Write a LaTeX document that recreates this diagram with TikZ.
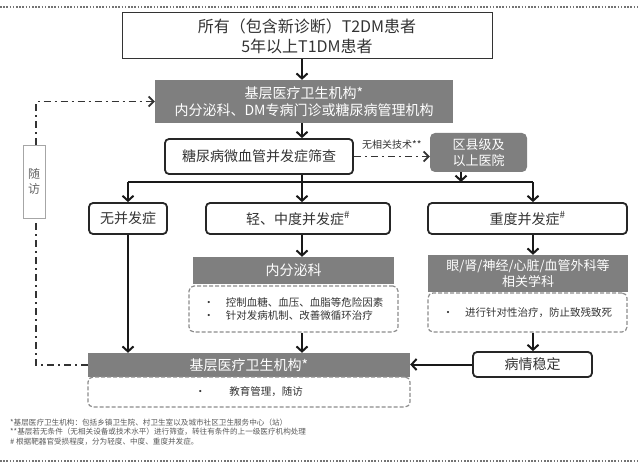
\documentclass[tikz,border=0pt]{standalone}
\usepackage{fontspec}
\setmainfont{Noto Sans CJK SC}
\usetikzlibrary{arrows.meta}
\definecolor{txt}{HTML}{333333}
\definecolor{gbox}{HTML}{7F7F7F}
\definecolor{dline}{HTML}{8C8C8C}
\begin{document}
\begin{tikzpicture}[x=1pt,y=-1pt,
  fs/.style 2 args={font=\fontsize{#1}{#2}\selectfont},
  plainbox/.style={draw=txt, line width=1pt, fill=white, text=txt, align=center, inner sep=0pt},
  rbox/.style={draw=black!85, line width=1.8pt, rounded corners=4pt, fill=white, text=txt, align=center, inner sep=0pt},
  gbx/.style={fill=gbox, text=white, align=center, inner sep=0pt},
  rgbx/.style={fill=gbox, text=white, align=center, inner sep=0pt, rounded corners=5pt},
  dbx/.style={draw=dline, dash pattern=on 4pt off 2pt, line width=1.2pt, rounded corners=5pt, inner sep=0pt, text=txt, align=left},
  arr/.style={draw=black!90, line width=2pt, -{Straight Barb[length=5pt,width=11pt]}},
  conn/.style={draw=black!90, line width=2pt},
  dd/.style={draw=black!80, line width=1.8pt, dash pattern=on 7pt off 4pt on 2pt off 4pt},
  ddarr/.style={dd, -{Straight Barb[length=5pt,width=10pt]}},
  sfbox/.style={draw=black!35, line width=0.8pt, fill=white, text=black!60, align=center, inner sep=0pt},
  border/.style={draw=black!55, line width=1.6pt, dash pattern=on 1.6pt off 1.6pt}
]
\useasboundingbox (0,0) rectangle (640,468);
\draw[border] (0,7) -- (640,7);
\draw[border] (0,461) -- (640,461);

\node[plainbox, minimum width=370pt, minimum height=46pt, fs={16}{20}] (top) at (307,36)
  {所有（包含新诊断）T2DM患者\\5年以上T1DM患者};
\node[gbx, minimum width=298pt, minimum height=43pt, fs={14}{17}] (g1) at (304,101.5)
  {基层医疗卫生机构*\\内分泌科、DM专病门诊或糖尿病管理机构};
\node[rbox, minimum width=188pt, minimum height=35pt, fs={14}{17}] (screen) at (259,156.5)
  {糖尿病微血管并发症筛查};
\node[rgbx, minimum width=97pt, minimum height=39pt, fs={13}{16}] (dist) at (478.5,152.5)
  {区县级及\\以上医院};
\node[rbox, minimum width=78pt, minimum height=31pt, fs={14}{17}] (none) at (128,218.5) {无并发症};
\node[rbox, minimum width=184pt, minimum height=31pt, fs={14}{17}] (mild) at (298,218.5) {轻、中度并发症\textsuperscript{\#}};
\node[rbox, minimum width=199pt, minimum height=31pt, fs={14}{17}] (sev) at (527.5,218.5) {重度并发症\textsuperscript{\#}};
\node[gbx, minimum width=201pt, minimum height=27pt, fs={14}{17}] (endo) at (293.5,270.5) {内分泌科};
\node[dbx, minimum width=209pt, minimum height=46pt, fs={10.5}{12.5}] (endod) at (293.5,309)
  {•\hspace{12pt}控制血糖、血压、血脂等危险因素\\•\hspace{12pt}针对发病机制、改善微循环治疗};
\node[gbx, minimum width=200pt, minimum height=37pt, fs={13}{16}] (spec) at (528,273.5)
  {眼/肾/神经/心脏/血管外科等\\相关学科};
\node[dbx, minimum width=199pt, minimum height=39pt, fs={10.5}{12.5}] (specd) at (527.5,312.5)
  {•\hspace{12pt}进行针对性治疗，防止致残致死};
\node[gbx, minimum width=322pt, minimum height=24pt, fs={14}{17}] (base) at (249,365) {基层医疗卫生机构*};
\node[dbx, minimum width=322pt, minimum height=30pt, fs={10.5}{12.5}] (based) at (249,392)
  {•\hspace{24pt}教育管理，随访};
\node[rbox, minimum width=119pt, minimum height=25pt, fs={14}{17}] (stable) at (532.5,364.5) {病情稳定};

\coordinate (cm) at (302,0);
\coordinate (jl) at (128,182);
\coordinate (jr) at (533,182);
\coordinate (dj) at (461,182);
\coordinate (lx) at (36,0);

\draw[arr] (top.south -| cm) -- (g1.north -| cm);
\draw[arr] (g1.south -| cm) -- (screen.north -| cm);
\draw[arr] (screen.south -| cm) -- (mild.north -| cm);
\draw[conn] (jl) -- (jr);
\draw[arr] (jl) -- (none.north -| jl);
\draw[arr] (jr) -- (sev.north -| jr);
\draw[arr] (dist.south -| dj) -- (dj);
\draw[ddarr] (screen.east) -- (screen.east -| dist.west)
  node[midway, above=3pt, text=txt, fs={10}{12}] (nolab) {无相关技术**};
\draw[arr] (mild.south -| cm) -- (endo.north -| cm);
\draw[arr] (sev.south -| jr) -- (spec.north -| jr);
\draw[arr] (none.south) -- (none.south |- base.north);
\draw[arr] (endod.south -| cm) -- (base.north -| cm);
\draw[arr] (specd.south -| jr) -- (stable.north -| jr);
\draw[arr] (stable.west) -- (stable.west -| base.east);
\draw[ddarr] (base.west) -- (base.west -| lx) -- (g1.west -| lx) -- (g1.west);

\node[sfbox, minimum width=22pt, minimum height=73pt, fs={12}{15}] (sf) at (34,181.5) {随\\访};

\node[anchor=north west, align=left, text=black!65, fs={7.6}{9.2}, inner sep=0pt] (notes) at (10,419)
  {*基层医疗卫生机构：包括乡镇卫生院、村卫生室以及城市社区卫生服务中心（站）\\
   **基层若无条件（无相关设备或技术水平）进行筛查，转往有条件的上一级医疗机构处理\\
   \# 根据靶器官受损程度，分为轻度、中度、重度并发症。};
\end{tikzpicture}
\end{document}
